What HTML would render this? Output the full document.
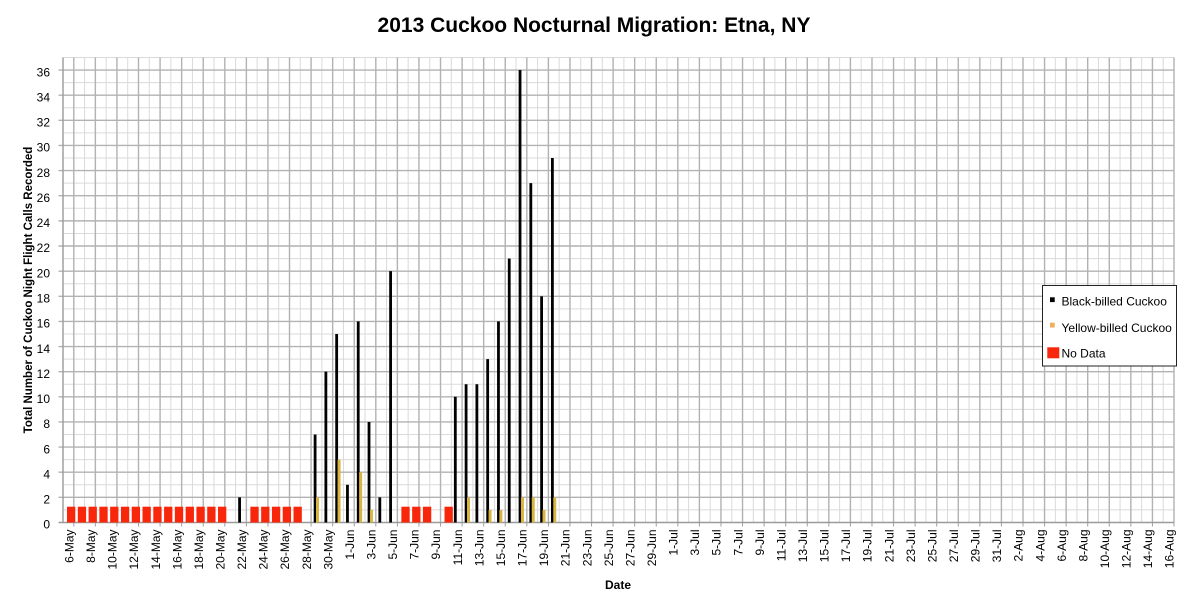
<!DOCTYPE html>
<html><head><meta charset="utf-8"><style>
html,body{margin:0;padding:0;background:#fff;}
svg{display:block;}
text{font-family:"Liberation Sans",Arial,sans-serif;fill:#000;}
</style></head><body>
<svg width="1188" height="608" viewBox="0 0 1188 608" xmlns="http://www.w3.org/2000/svg">
<rect x="0" y="0" width="1188" height="608" fill="#fff"/>
<text x="594" y="32" text-anchor="middle" font-size="21" font-weight="bold">2013 Cuckoo Nocturnal Migration: Etna, NY</text>

<!-- minor grid -->
<path fill="none" stroke="#dadada" stroke-width="1" d="M84.57,57.5V522.5M106.15,57.5V522.5M127.72,57.5V522.5M149.29,57.5V522.5M170.86,57.5V522.5M192.44,57.5V522.5M214.01,57.5V522.5M235.58,57.5V522.5M257.16,57.5V522.5M278.73,57.5V522.5M300.30,57.5V522.5M321.87,57.5V522.5M343.45,57.5V522.5M365.02,57.5V522.5M386.59,57.5V522.5M408.16,57.5V522.5M429.74,57.5V522.5M451.31,57.5V522.5M472.88,57.5V522.5M494.46,57.5V522.5M516.03,57.5V522.5M537.60,57.5V522.5M559.17,57.5V522.5M580.75,57.5V522.5M602.32,57.5V522.5M623.89,57.5V522.5M645.47,57.5V522.5M667.04,57.5V522.5M688.61,57.5V522.5M710.18,57.5V522.5M731.76,57.5V522.5M753.33,57.5V522.5M774.90,57.5V522.5M796.48,57.5V522.5M818.05,57.5V522.5M839.62,57.5V522.5M861.19,57.5V522.5M882.77,57.5V522.5M904.34,57.5V522.5M925.91,57.5V522.5M947.48,57.5V522.5M969.06,57.5V522.5M990.63,57.5V522.5M1012.20,57.5V522.5M1033.78,57.5V522.5M1055.35,57.5V522.5M1076.92,57.5V522.5M1098.49,57.5V522.5M1120.07,57.5V522.5M1141.64,57.5V522.5M1163.21,57.5V522.5
M63,509.93H1174M63,484.80H1174M63,459.66H1174M63,434.52H1174M63,409.39H1174M63,384.25H1174M63,359.12H1174M63,333.98H1174M63,308.84H1174M63,283.71H1174M63,258.57H1174M63,233.44H1174M63,208.30H1174M63,183.16H1174M63,158.03H1174M63,132.89H1174M63,107.76H1174M63,82.62H1174M63,57.48H1174"/>

<!-- major grid -->
<path fill="none" stroke="#b2b2b2" stroke-width="1.4" d="M73.79,57.5V522.5M95.36,57.5V522.5M116.93,57.5V522.5M138.50,57.5V522.5M160.08,57.5V522.5M181.65,57.5V522.5M203.22,57.5V522.5M224.80,57.5V522.5M246.37,57.5V522.5M267.94,57.5V522.5M289.51,57.5V522.5M311.09,57.5V522.5M332.66,57.5V522.5M354.23,57.5V522.5M375.81,57.5V522.5M397.38,57.5V522.5M418.95,57.5V522.5M440.52,57.5V522.5M462.10,57.5V522.5M483.67,57.5V522.5M505.24,57.5V522.5M526.82,57.5V522.5M548.39,57.5V522.5M569.96,57.5V522.5M591.53,57.5V522.5M613.11,57.5V522.5M634.68,57.5V522.5M656.25,57.5V522.5M677.82,57.5V522.5M699.40,57.5V522.5M720.97,57.5V522.5M742.54,57.5V522.5M764.12,57.5V522.5M785.69,57.5V522.5M807.26,57.5V522.5M828.83,57.5V522.5M850.41,57.5V522.5M871.98,57.5V522.5M893.55,57.5V522.5M915.13,57.5V522.5M936.70,57.5V522.5M958.27,57.5V522.5M979.84,57.5V522.5M1001.42,57.5V522.5M1022.99,57.5V522.5M1044.56,57.5V522.5M1066.14,57.5V522.5M1087.71,57.5V522.5M1109.28,57.5V522.5M1130.85,57.5V522.5M1152.43,57.5V522.5M1174.00,57.5V522.5
M58.5,497.36H1174M58.5,472.23H1174M58.5,447.09H1174M58.5,421.96H1174M58.5,396.82H1174M58.5,371.68H1174M58.5,346.55H1174M58.5,321.41H1174M58.5,296.28H1174M58.5,271.14H1174M58.5,246.00H1174M58.5,220.87H1174M58.5,195.73H1174M58.5,170.60H1174M58.5,145.46H1174M58.5,120.32H1174M58.5,95.19H1174M58.5,70.05H1174"/>

<!-- x ticks -->
<path fill="none" stroke="#a0a0a0" stroke-width="1" d="M73.79,522.5V526.5M95.36,522.5V526.5M116.93,522.5V526.5M138.50,522.5V526.5M160.08,522.5V526.5M181.65,522.5V526.5M203.22,522.5V526.5M224.80,522.5V526.5M246.37,522.5V526.5M267.94,522.5V526.5M289.51,522.5V526.5M311.09,522.5V526.5M332.66,522.5V526.5M354.23,522.5V526.5M375.81,522.5V526.5M397.38,522.5V526.5M418.95,522.5V526.5M440.52,522.5V526.5M462.10,522.5V526.5M483.67,522.5V526.5M505.24,522.5V526.5M526.82,522.5V526.5M548.39,522.5V526.5M569.96,522.5V526.5M591.53,522.5V526.5M613.11,522.5V526.5M634.68,522.5V526.5M656.25,522.5V526.5M677.82,522.5V526.5M699.40,522.5V526.5M720.97,522.5V526.5M742.54,522.5V526.5M764.12,522.5V526.5M785.69,522.5V526.5M807.26,522.5V526.5M828.83,522.5V526.5M850.41,522.5V526.5M871.98,522.5V526.5M893.55,522.5V526.5M915.13,522.5V526.5M936.70,522.5V526.5M958.27,522.5V526.5M979.84,522.5V526.5M1001.42,522.5V526.5M1022.99,522.5V526.5M1044.56,522.5V526.5M1066.14,522.5V526.5M1087.71,522.5V526.5M1109.28,522.5V526.5M1130.85,522.5V526.5M1152.43,522.5V526.5M1174.00,522.5V526.5"/>

<!-- axes -->
<path fill="none" stroke="#9a9a9a" stroke-width="1.4" d="M63,57.5V522.5M58.5,522.5H1174"/>

<!-- red No Data bars -->
<g fill="#f8260a">
<rect x="67.00" y="506.7" width="8.3" height="15.8"/>
<rect x="77.79" y="506.7" width="8.3" height="15.8"/>
<rect x="88.57" y="506.7" width="8.3" height="15.8"/>
<rect x="99.36" y="506.7" width="8.3" height="15.8"/>
<rect x="110.15" y="506.7" width="8.3" height="15.8"/>
<rect x="120.93" y="506.7" width="8.3" height="15.8"/>
<rect x="131.72" y="506.7" width="8.3" height="15.8"/>
<rect x="142.50" y="506.7" width="8.3" height="15.8"/>
<rect x="153.29" y="506.7" width="8.3" height="15.8"/>
<rect x="164.08" y="506.7" width="8.3" height="15.8"/>
<rect x="174.86" y="506.7" width="8.3" height="15.8"/>
<rect x="185.65" y="506.7" width="8.3" height="15.8"/>
<rect x="196.44" y="506.7" width="8.3" height="15.8"/>
<rect x="207.22" y="506.7" width="8.3" height="15.8"/>
<rect x="218.01" y="506.7" width="8.3" height="15.8"/>
<rect x="250.37" y="506.7" width="8.3" height="15.8"/>
<rect x="261.16" y="506.7" width="8.3" height="15.8"/>
<rect x="271.94" y="506.7" width="8.3" height="15.8"/>
<rect x="282.73" y="506.7" width="8.3" height="15.8"/>
<rect x="293.51" y="506.7" width="8.3" height="15.8"/>
<rect x="401.38" y="506.7" width="8.3" height="15.8"/>
<rect x="412.16" y="506.7" width="8.3" height="15.8"/>
<rect x="422.95" y="506.7" width="8.3" height="15.8"/>
<rect x="444.52" y="506.7" width="8.3" height="15.8"/>
</g>

<!-- black-billed bars -->
<g fill="#000">
<rect x="238.18" y="497.36" width="2.8" height="25.14"/>
<rect x="313.69" y="434.52" width="2.8" height="87.98"/>
<rect x="324.47" y="371.68" width="2.8" height="150.82"/>
<rect x="335.26" y="333.98" width="2.8" height="188.52"/>
<rect x="346.05" y="484.80" width="2.8" height="37.70"/>
<rect x="356.83" y="321.41" width="2.8" height="201.09"/>
<rect x="367.62" y="421.96" width="2.8" height="100.54"/>
<rect x="378.41" y="497.36" width="2.8" height="25.14"/>
<rect x="389.19" y="271.14" width="2.8" height="251.36"/>
<rect x="453.91" y="396.82" width="2.8" height="125.68"/>
<rect x="464.70" y="384.25" width="2.8" height="138.25"/>
<rect x="475.48" y="384.25" width="2.8" height="138.25"/>
<rect x="486.27" y="359.12" width="2.8" height="163.38"/>
<rect x="497.06" y="321.41" width="2.8" height="201.09"/>
<rect x="507.84" y="258.57" width="2.8" height="263.93"/>
<rect x="518.63" y="70.05" width="2.8" height="452.45"/>
<rect x="529.42" y="183.16" width="2.8" height="339.34"/>
<rect x="540.20" y="296.28" width="2.8" height="226.22"/>
<rect x="550.99" y="158.03" width="2.8" height="364.47"/>
</g>

<!-- yellow-billed bars -->
<g fill="#d8b440">
<rect x="315.99" y="497.36" width="3" height="25.14"/>
<rect x="337.56" y="459.66" width="3" height="62.84"/>
<rect x="359.13" y="472.23" width="3" height="50.27"/>
<rect x="369.92" y="509.93" width="3" height="12.57"/>
<rect x="467.00" y="497.36" width="3" height="25.14"/>
<rect x="488.57" y="509.93" width="3" height="12.57"/>
<rect x="499.36" y="509.93" width="3" height="12.57"/>
<rect x="520.93" y="497.36" width="3" height="25.14"/>
<rect x="531.72" y="497.36" width="3" height="25.14"/>
<rect x="542.50" y="509.93" width="3" height="12.57"/>
<rect x="553.29" y="497.36" width="3" height="25.14"/>
</g>

<!-- y tick labels -->
<g font-size="12" text-anchor="end">
<text x="50" y="528.7">0</text>
<text x="50" y="503.56">2</text>
<text x="50" y="478.43">4</text>
<text x="50" y="453.29">6</text>
<text x="50" y="428.16">8</text>
<text x="50" y="403.02">10</text>
<text x="50" y="377.88">12</text>
<text x="50" y="352.75">14</text>
<text x="50" y="327.61">16</text>
<text x="50" y="302.48">18</text>
<text x="50" y="277.34">20</text>
<text x="50" y="252.2">22</text>
<text x="50" y="227.07">24</text>
<text x="50" y="201.93">26</text>
<text x="50" y="176.8">28</text>
<text x="50" y="151.66">30</text>
<text x="50" y="126.52">32</text>
<text x="50" y="101.39">34</text>
<text x="50" y="76.25">36</text>
</g>

<!-- x tick labels -->
<g font-size="12" text-anchor="end">
<text transform="translate(73.50,529.5) rotate(-90)">6-May</text>
<text transform="translate(95.07,529.5) rotate(-90)">8-May</text>
<text transform="translate(116.65,529.5) rotate(-90)">10-May</text>
<text transform="translate(138.22,529.5) rotate(-90)">12-May</text>
<text transform="translate(159.79,529.5) rotate(-90)">14-May</text>
<text transform="translate(181.36,529.5) rotate(-90)">16-May</text>
<text transform="translate(202.94,529.5) rotate(-90)">18-May</text>
<text transform="translate(224.51,529.5) rotate(-90)">20-May</text>
<text transform="translate(246.08,529.5) rotate(-90)">22-May</text>
<text transform="translate(267.66,529.5) rotate(-90)">24-May</text>
<text transform="translate(289.23,529.5) rotate(-90)">26-May</text>
<text transform="translate(310.80,529.5) rotate(-90)">28-May</text>
<text transform="translate(332.37,529.5) rotate(-90)">30-May</text>
<text transform="translate(353.95,529.5) rotate(-90)">1-Jun</text>
<text transform="translate(375.52,529.5) rotate(-90)">3-Jun</text>
<text transform="translate(397.09,529.5) rotate(-90)">5-Jun</text>
<text transform="translate(418.66,529.5) rotate(-90)">7-Jun</text>
<text transform="translate(440.24,529.5) rotate(-90)">9-Jun</text>
<text transform="translate(461.81,529.5) rotate(-90)">11-Jun</text>
<text transform="translate(483.38,529.5) rotate(-90)">13-Jun</text>
<text transform="translate(504.96,529.5) rotate(-90)">15-Jun</text>
<text transform="translate(526.53,529.5) rotate(-90)">17-Jun</text>
<text transform="translate(548.10,529.5) rotate(-90)">19-Jun</text>
<text transform="translate(569.67,529.5) rotate(-90)">21-Jun</text>
<text transform="translate(591.25,529.5) rotate(-90)">23-Jun</text>
<text transform="translate(612.82,529.5) rotate(-90)">25-Jun</text>
<text transform="translate(634.39,529.5) rotate(-90)">27-Jun</text>
<text transform="translate(655.97,529.5) rotate(-90)">29-Jun</text>
<text transform="translate(677.54,529.5) rotate(-90)">1-Jul</text>
<text transform="translate(699.11,529.5) rotate(-90)">3-Jul</text>
<text transform="translate(720.68,529.5) rotate(-90)">5-Jul</text>
<text transform="translate(742.26,529.5) rotate(-90)">7-Jul</text>
<text transform="translate(763.83,529.5) rotate(-90)">9-Jul</text>
<text transform="translate(785.40,529.5) rotate(-90)">11-Jul</text>
<text transform="translate(806.98,529.5) rotate(-90)">13-Jul</text>
<text transform="translate(828.55,529.5) rotate(-90)">15-Jul</text>
<text transform="translate(850.12,529.5) rotate(-90)">17-Jul</text>
<text transform="translate(871.69,529.5) rotate(-90)">19-Jul</text>
<text transform="translate(893.27,529.5) rotate(-90)">21-Jul</text>
<text transform="translate(914.84,529.5) rotate(-90)">23-Jul</text>
<text transform="translate(936.41,529.5) rotate(-90)">25-Jul</text>
<text transform="translate(957.98,529.5) rotate(-90)">27-Jul</text>
<text transform="translate(979.56,529.5) rotate(-90)">29-Jul</text>
<text transform="translate(1001.13,529.5) rotate(-90)">31-Jul</text>
<text transform="translate(1022.70,529.5) rotate(-90)">2-Aug</text>
<text transform="translate(1044.28,529.5) rotate(-90)">4-Aug</text>
<text transform="translate(1065.85,529.5) rotate(-90)">6-Aug</text>
<text transform="translate(1087.42,529.5) rotate(-90)">8-Aug</text>
<text transform="translate(1108.99,529.5) rotate(-90)">10-Aug</text>
<text transform="translate(1130.57,529.5) rotate(-90)">12-Aug</text>
<text transform="translate(1152.14,529.5) rotate(-90)">14-Aug</text>
<text transform="translate(1173.71,529.5) rotate(-90)">16-Aug</text>
</g>

<!-- axis titles -->
<text transform="translate(32,290) rotate(-90)" text-anchor="middle" font-size="11.5" font-weight="bold">Total Number of Cuckoo Night Flight Calls Recorded</text>
<text x="618" y="589" text-anchor="middle" font-size="12" font-weight="bold">Date</text>

<!-- legend -->
<rect x="1042.5" y="285.5" width="134" height="80.5" fill="#fff" stroke="#222" stroke-width="1"/>
<rect x="1050" y="297.3" width="4.7" height="4.8" fill="#000"/>
<text x="1061.5" y="305.3" font-size="12">Black-billed Cuckoo</text>
<rect x="1050" y="322.7" width="4.7" height="4.8" fill="#f0ae58"/>
<text x="1061.5" y="332" font-size="12">Yellow-billed Cuckoo</text>
<rect x="1047.3" y="347.3" width="12" height="11" fill="#f8260a"/>
<text x="1061.5" y="357.6" font-size="12">No Data</text>
</svg>
</body></html>
